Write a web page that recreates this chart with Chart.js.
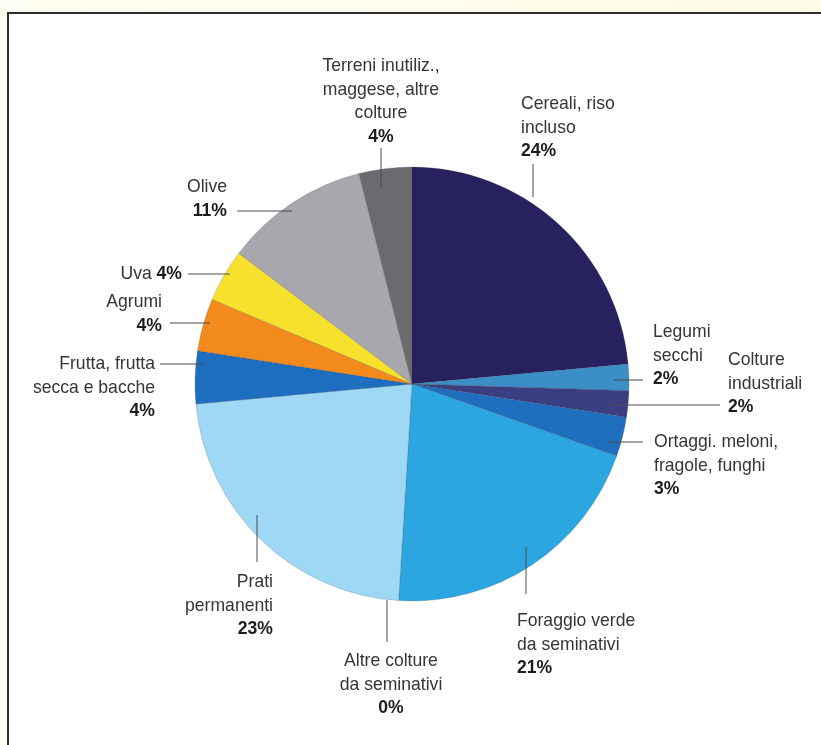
<!DOCTYPE html>
<html>
<head>
<meta charset="utf-8">
<script src="https://cdn.jsdelivr.net/npm/chart.js@4.4.1/dist/chart.umd.min.js"></script>
<style>
  html, body { margin: 0; padding: 0; }
  body {
    width: 821px; height: 745px; overflow: hidden; position: relative;
    background: linear-gradient(90deg, #fffef2 0%, #fffbe6 100%);
  }
  #panel {
    position: absolute; left: 7px; top: 12px; width: 840px; height: 780px;
    border: 2px solid #2e2e2e; background: #ffffff;
  }
  #chart { position: absolute; left: 0; top: 0; }
</style>
</head>
<body>
<div id="panel"></div>
<canvas id="chart" width="821" height="745"></canvas>
<script>
// Superficie agricola per coltura (%), in senso orario dall'alto
const categories = [
    ["Cereali, riso", "incluso"],
    ["Legumi", "secchi"],
    ["Colture", "industriali"],
    ["Ortaggi. meloni,", "fragole, funghi"],
    ["Foraggio verde", "da seminativi"],
    ["Altre colture", "da seminativi"],
    ["Prati", "permanenti"],
    ["Frutta, frutta", "secca e bacche"],
    ["Agrumi"],
    ["Uva"],
    ["Olive"],
    ["Terreni inutiliz.,", "maggese, altre", "colture"]
];
const shares = [24, 2, 2, 3, 21, 0, 23, 4, 4, 4, 11, 4];
const sliceColors = [
    "#27215f", "#3b8fc6", "#3c3e84", "#1f6fbf", "#2ba6e0", "#2ba6e0",
    "#9fd8f5", "#1d6ebf", "#f28a1c", "#f8e12c", "#a8a7ad", "#6b6a6f"
];

// Posizione delle etichette e delle linee di richiamo
const callouts = [
    { x: 521, y: 104, align: "left",   leader: [533, 164, 533, 197] },
    { x: 653, y: 332, align: "left",   leader: [613, 380, 643, 380] },
    { x: 728, y: 360, align: "left",   leader: [613, 405, 720, 405] },
    { x: 654, y: 442, align: "left",   leader: [607, 442, 643, 442] },
    { x: 517, y: 621, align: "left",   leader: [526, 547, 526, 594] },
    { x: 391, y: 661, align: "center", leader: [387, 600, 387, 642] },
    { x: 273, y: 582, align: "right",  leader: [257, 515, 257, 562] },
    { x: 155, y: 364, align: "right",  leader: [160, 364, 203, 364] },
    { x: 162, y: 302, align: "right",  leader: [170, 323, 210, 323] },
    { x: 182, y: 274, align: "right",  leader: [188, 274, 230, 274], inline: true },
    { x: 227, y: 187, align: "right",  leader: [237, 211, 292, 211] },
    { x: 381, y: 66,  align: "center", leader: [381, 148, 381, 188] }
];
const lineHeight = 23.5;
const fontSize = 18.5;
const family = '"Liberation Sans", Arial, sans-serif';
const squeeze = 0.95;   // leggermente condensato

function textWidth(ctx, str, bold) {
    ctx.font = `${bold ? "bold " : ""}${fontSize}px ${family}`;
    return ctx.measureText(str).width * squeeze;
}

function drawText(ctx, str, x, y, align, bold) {
    ctx.save();
    ctx.font = `${bold ? "bold " : ""}${fontSize}px ${family}`;
    ctx.fillStyle = bold ? "#1c1c1c" : "#353535";
    ctx.textAlign = align;
    ctx.textBaseline = "middle";
    ctx.translate(x, y);
    ctx.scale(squeeze, 1);
    ctx.fillText(str, 0, 0);
    ctx.restore();
}

const calloutPlugin = {
    id: "callouts",
    afterDraw(chart) {
        const { ctx } = chart;
        ctx.save();
        ctx.strokeStyle = "#4d4d4d";
        ctx.lineWidth = 1;
        callouts.forEach((c, i) => {
            const [x1, y1, x2, y2] = c.leader;
            ctx.beginPath();
            ctx.moveTo(x1, y1);
            ctx.lineTo(x2, y2);
            ctx.stroke();

            const pct = `${shares[i]}%`;
            const lines = categories[i];
            if (c.inline) {
                const wp = textWidth(ctx, pct, true);
                const ws = textWidth(ctx, " ", false);
                drawText(ctx, pct, c.x, c.y, "right", true);
                drawText(ctx, lines[0], c.x - wp - ws, c.y, "right", false);
                return;
            }
            lines.forEach((ln, k) => {
                drawText(ctx, ln, c.x, c.y + k * lineHeight, c.align, false);
            });
            drawText(ctx, pct, c.x, c.y + lines.length * lineHeight, c.align, true);
        });
        ctx.restore();
    }
};

new Chart(document.getElementById("chart"), {
    type: "pie",
    data: {
        labels: categories.map(l => l.join(" ")),
        datasets: [{
            data: shares,
            backgroundColor: sliceColors,
            borderColor: "rgba(60, 60, 70, 0.35)",
            borderWidth: 0.6
        }]
    },
    options: {
        responsive: false,
        animation: false,
        radius: 217,
        layout: { padding: { left: 195, right: 192, top: 167, bottom: 144 } },
        plugins: {
            legend: { display: false },
            tooltip: { enabled: false }
        }
    },
    plugins: [calloutPlugin]
});
</script>
</body>
</html>
